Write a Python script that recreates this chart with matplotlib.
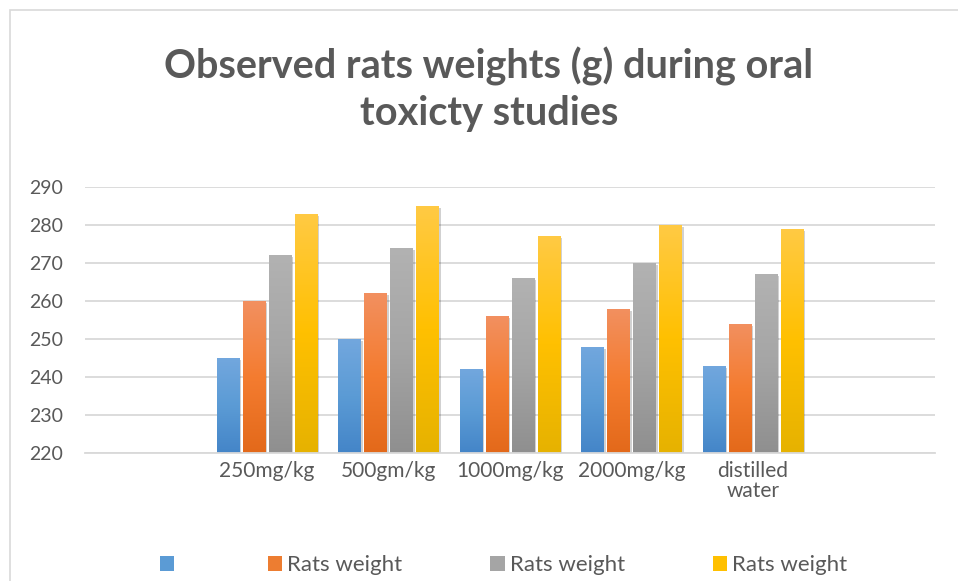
import matplotlib
matplotlib.use("Agg")
import matplotlib.pyplot as plt
import numpy as np
from matplotlib.patches import Rectangle
from matplotlib.colors import LinearSegmentedColormap
import matplotlib.patheffects as pe

categories = ["", "250mg/kg", "500gm/kg", "1000mg/kg", "2000mg/kg", "distilled\nwater", ""]
series_labels = ["", "Rats weight", "Rats weight", "Rats weight"]
s1 = [np.nan, 245, 250, 242, 248, 243]
s2 = [np.nan, 260, 262, 256, 258, 254]
s3 = [np.nan, 272, 274, 266, 270, 267]
s4 = [np.nan, 283, 285, 277, 280, 279]
series = [s1, s2, s3, s4]
yticks = [220, 230, 240, 250, 260, 270, 280, 290]
title_lines = ["Observed rats weights (g) during oral", "toxicty studies"]

# gradient colours: top, middle, bottom
grads = [
    ["#72A7DE", "#5B9BD5", "#4485C8"],
    ["#F29060", "#F47C30", "#E3691A"],
    ["#B2B2B2", "#A5A5A5", "#8F8F8F"],
    ["#FFCA44", "#FFC000", "#E6B200"],
]
solid = ["#5B9BD5", "#ED7D31", "#A5A5A5", "#FFC000"]

plt.rcParams['font.family'] = ['Lato', 'DejaVu Sans']
fig = plt.figure(figsize=(9.58, 5.81), dpi=100)
W, H = 958, 581
ax = fig.add_axes([85 / W, (H - 453) / H, (935 - 85) / W, (453 - 187) / H])

# chart border
fig.patches.append(Rectangle((10 / W, -0.05), 1.2, (H - 10) / H + 0.05,
                             transform=fig.transFigure, fill=False,
                             edgecolor="#D9D9D9", linewidth=1.2))

n = len(categories)
x = np.arange(n)
bw = 0.185
step = 0.214
ax.set_xlim(-0.5, n - 0.5)
ax.set_ylim(220, 290)

for i, s in enumerate(series):
    offs = (i - 1.5) * step
    vals = np.array(s + [np.nan], dtype=float)
    bars = ax.bar(x + offs, vals - 220, bottom=220, width=bw, color=solid[i],
                  zorder=3, linewidth=0)
    cmap = LinearSegmentedColormap.from_list("g%d" % i, grads[i][::-1])
    grad = np.linspace(0, 1, 256).reshape(-1, 1)
    for b in bars:
        h = b.get_height()
        if not np.isfinite(h) or h <= 0:
            continue
        b.set_path_effects([pe.SimplePatchShadow(offset=(1.5, -1.5), shadow_rgbFace="#000000", alpha=0.18),
                            pe.Normal()])
        x0 = b.get_x()
        im = ax.imshow(grad, extent=[x0, x0 + b.get_width(), 220, 220 + h],
                       origin="lower", aspect="auto", cmap=cmap, zorder=4)
        im.set_clip_path(b)

ax.set_aspect("auto")
ax.set_xlim(-0.5, n - 0.5)
ax.set_ylim(220, 290)
ax.set_yticks(yticks)
ax.set_xticks(x)
ax.set_xticklabels(categories, fontsize=15, color="#595959", linespacing=1.0)
ax.tick_params(axis="y", labelsize=14, labelcolor="#595959", length=0, pad=16)
ax.tick_params(axis="x", length=0, pad=6)
ax.yaxis.grid(True, color="#D9D9D9", linewidth=1.3, zorder=0)
ax.set_axisbelow(True)
for sp in ["top", "right", "left"]:
    ax.spines[sp].set_visible(False)
ax.spines["bottom"].set_color("#D9D9D9")
ax.spines["bottom"].set_linewidth(1.3)
ax.spines["bottom"].set_zorder(5)

for k, yy in enumerate([66, 114]):
    fig.text(489 / W, (H - yy) / H, title_lines[k], ha="center", va="center",
             fontsize=28.5, fontweight="bold", color="#595959")

handles = [Rectangle((0, 0), 1, 1, facecolor=solid[i]) for i in range(4)]
fig.legend(handles, series_labels, loc="center left", bbox_to_anchor=(160 / W, (H - 565) / H),
           ncol=4, frameon=False, fontsize=16, labelcolor="#595959", borderpad=0,
           borderaxespad=0, handlelength=0.65, handleheight=0.65, handletextpad=0.22,
           columnspacing=3.97)

fig.savefig("out.png", dpi=100)
